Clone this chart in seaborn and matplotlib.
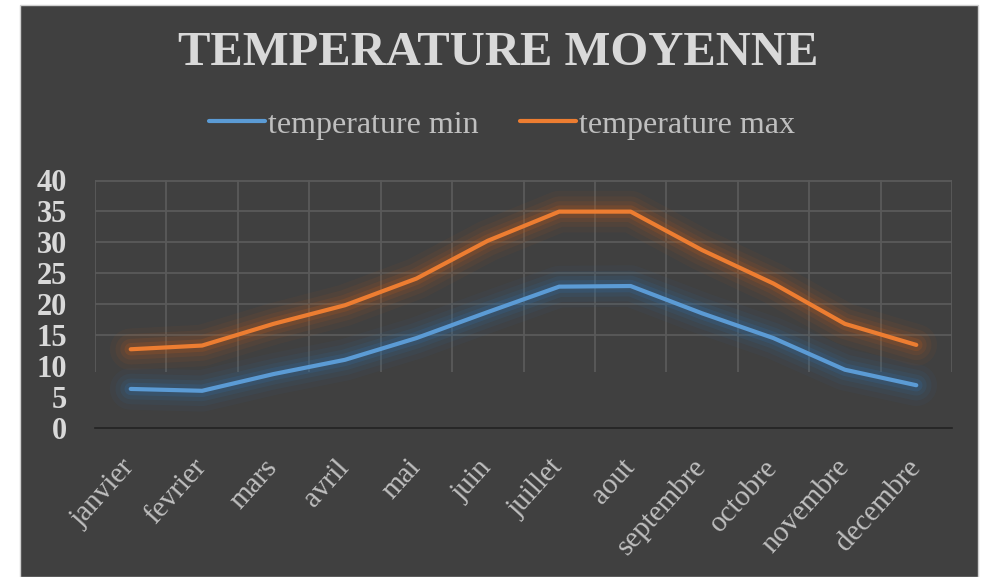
import numpy as np
import pandas as pd
import seaborn as sns
import matplotlib.pyplot as plt
import matplotlib.patheffects as pe
from matplotlib.patches import Rectangle

mois = ["janvier", "fevrier", "mars", "avril", "mai", "juin", "juillet",
        "aout", "septembre", "octobre", "novembre", "decembre"]
temp_min = [6.3, 6.0, 8.7, 11.0, 14.5, 18.7, 22.8, 22.9, 18.5, 14.5, 9.4, 6.9]
temp_max = [12.7, 13.3, 16.8, 19.8, 24.1, 30.2, 34.9, 34.9, 28.7, 23.3, 16.8, 13.4]
series = ["temperature min", "temperature max"]
colors = ["#5B9BD5", "#ED7D31"]
y_ticks = [0, 5, 10, 15, 20, 25, 30, 35, 40]

df = pd.DataFrame({
    "pos": list(range(len(mois))) * 2,
    "temperature": temp_min + temp_max,
    "serie": [series[0]] * len(mois) + [series[1]] * len(mois),
})

sns.set_theme(style="dark")
plt.rcParams["font.family"] = ["Liberation Serif", "DejaVu Serif"]

W, H = 981, 577
fig = plt.figure(figsize=(W / 100, H / 100), dpi=100, facecolor="white")
panel_bg = "#404040"
fig.patches.append(Rectangle((20 / W, 0), 958 / W, 1 - 5 / H, transform=fig.transFigure,
                             facecolor=panel_bg, edgecolor="#D0D0D0", lw=1.0, zorder=0))

ax = fig.add_axes([95 / W, 1 - 428 / H, 857 / W, 248 / H])
ax.set_zorder(2)
ax.set_facecolor(panel_bg)

sns.lineplot(data=df, x="pos", y="temperature", hue="serie", hue_order=series,
             palette=dict(zip(series, colors)), lw=3, sort=False, ax=ax,
             solid_capstyle="round", zorder=3)

# soft glow around each curve
glow = {"#5B9BD5": "#2F6FA8", "#ED7D31": "#B8581C"}
for line, c in zip(ax.lines[:2], colors):
    g = glow[c]
    line.set_path_effects([
        pe.Stroke(linewidth=30, foreground=g, alpha=0.06),
        pe.Stroke(linewidth=22, foreground=g, alpha=0.09),
        pe.Stroke(linewidth=15, foreground=g, alpha=0.13),
        pe.Stroke(linewidth=9, foreground=g, alpha=0.22),
        pe.Normal(),
    ])

ax.set_xlim(-0.5, len(mois) - 0.5)
ax.set_ylim(0, 40)

# light grid: horizontal at each 5 (upper part), vertical between months
grid_c = "#5A5A5A"
ax.hlines([15, 20, 25, 30, 35, 39.9], -0.5, len(mois) - 0.5, colors=grid_c, lw=1.3, zorder=1)
ax.vlines(np.arange(-0.5, len(mois), 1.0), 9, 40, colors=grid_c, lw=1.3, zorder=1)
ax.grid(False)

for s in ["top", "left", "right"]:
    ax.spines[s].set_visible(False)
ax.spines["bottom"].set_color("#222222")
ax.spines["bottom"].set_linewidth(1.2)

ax.set_yticks(y_ticks)
ax.set_yticklabels([str(v) for v in y_ticks], fontsize=22, fontweight="bold", color="#D9D9D9")
# rotated month names: anchor nudged left so each word ends above its month
ax.set_xticks(np.arange(len(mois)) - 0.14)
ax.set_xticklabels(mois, fontsize=21, color="#BFBFBF", rotation=48,
                   ha="right", va="top", rotation_mode="anchor")
ax.tick_params(axis="y", length=0, pad=20)
ax.tick_params(axis="x", length=0, pad=19)
ax.set_xlabel("")
ax.set_ylabel("")

handles, labels = ax.get_legend_handles_labels()
ax.get_legend().remove()
for h in handles:
    h.set_linewidth(3)
fig.legend(handles, labels, loc="center", bbox_to_anchor=(502 / W, 1 - 125 / H),
           ncol=2, frameon=False, fontsize=23, labelcolor="#BFBFBF",
           handlelength=1.75, handletextpad=0.1, columnspacing=1.3)

fig.text(498 / W, 1 - 53 / H, "TEMPERATURE MOYENNE", ha="center", va="center",
         fontsize=35, fontweight="bold", color="#D9D9D9")

fig.savefig("out.png", dpi=100, facecolor="white")
